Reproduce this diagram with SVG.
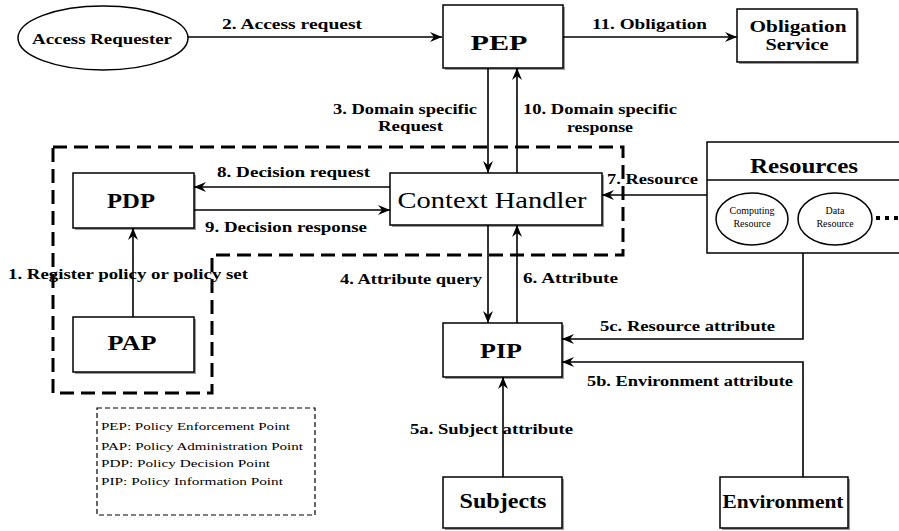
<svg xmlns="http://www.w3.org/2000/svg" width="899" height="531" viewBox="0 0 899 531">
<defs>
<marker id="ah" markerUnits="userSpaceOnUse" markerWidth="12" markerHeight="10" refX="12" refY="5" orient="auto">
<path d="M0,0 L12,5 L0,10 L4,5 Z" fill="#000"/>
</marker>
<style>
.box{fill:#fff;stroke:#000;stroke-width:1.5}
.sh{fill:#9a9a9a}
.lbl{font-family:"Liberation Serif",serif;font-weight:bold;font-size:14px;fill:#000}
.big{font-family:"Liberation Serif",serif;font-weight:bold;font-size:22px;fill:#000;text-anchor:middle}
.con{fill:none;stroke:#000;stroke-width:1.6}
.leg{font-family:"Liberation Serif",serif;font-size:11px;fill:#000}
.small{font-family:"Liberation Serif",serif;font-size:10px;fill:#000;text-anchor:middle}
</style>
</defs>
<rect width="899" height="531" fill="#fff"/>

<g id="region">
<path d="M53,147 H623 V255 H212 V393 H53 Z" fill="none" stroke="#000" stroke-width="3" stroke-dasharray="14 7"/>
</g>

<g id="access-requester">
<ellipse cx="103" cy="38" rx="85" ry="32" fill="#fff" stroke="#000" stroke-width="1.5"/>
<text x="102" y="44" class="lbl" text-anchor="middle" textLength="140" lengthAdjust="spacingAndGlyphs">Access Requester</text>
</g>

<g id="pep">
<rect x="445" y="7" width="120" height="63" class="sh"/>
<rect x="443" y="5" width="120" height="63" class="box"/>
<text x="499" y="50" class="big" textLength="57" lengthAdjust="spacingAndGlyphs">PEP</text>
</g>

<g id="obligation-service">
<rect x="739" y="11" width="120" height="53" class="sh"/>
<rect x="737" y="9" width="120" height="53" class="box"/>
<text x="798" y="32" class="lbl" text-anchor="middle" font-size="17" textLength="97" lengthAdjust="spacingAndGlyphs" style="font-size:17px">Obligation</text>
<text x="797" y="50" class="lbl" text-anchor="middle" textLength="63" lengthAdjust="spacingAndGlyphs" style="font-size:16px">Service</text>
</g>

<g id="pdp">
<rect x="75" y="175" width="121" height="55" class="sh"/>
<rect x="73" y="173" width="121" height="55" class="box"/>
<text x="131" y="208" class="big" textLength="48" lengthAdjust="spacingAndGlyphs">PDP</text>
</g>

<g id="context-handler">
<rect x="392" y="175" width="212" height="52" class="sh"/>
<rect x="390" y="173" width="212" height="52" class="box"/>
<text x="492" y="208" font-family="Liberation Serif, serif" font-size="23" text-anchor="middle" textLength="189" lengthAdjust="spacingAndGlyphs">Context Handler</text>
</g>

<g id="pap">
<rect x="75" y="319" width="121" height="55" class="sh"/>
<rect x="73" y="317" width="121" height="55" class="box"/>
<text x="132" y="350" class="big" textLength="49" lengthAdjust="spacingAndGlyphs">PAP</text>
</g>

<g id="resources">
<rect x="707" y="142" width="200" height="111" class="box"/>
<line x1="707" y1="180" x2="899" y2="180" stroke="#000" stroke-width="1.5"/>
<text x="804" y="173" class="big" textLength="108" lengthAdjust="spacingAndGlyphs">Resources</text>
<ellipse cx="752" cy="219" rx="36" ry="26" fill="#fff" stroke="#000" stroke-width="1.5"/>
<text x="752" y="214" class="small">Computing</text>
<text x="752" y="227" class="small">Resource</text>
<ellipse cx="835" cy="219" rx="37" ry="26" fill="#fff" stroke="#000" stroke-width="1.5"/>
<text x="835" y="214" class="small">Data</text>
<text x="835" y="227" class="small">Resource</text>
<rect x="876" y="216" width="4" height="4" fill="#000"/>
<rect x="885" y="216" width="4" height="4" fill="#000"/>
<rect x="894" y="216" width="4" height="4" fill="#000"/>
</g>

<g id="pip">
<rect x="445" y="325" width="119" height="54" class="sh"/>
<rect x="443" y="323" width="119" height="54" class="box"/>
<text x="501" y="358" class="big" textLength="42" lengthAdjust="spacingAndGlyphs">PIP</text>
</g>

<g id="subjects">
<rect x="445" y="479" width="119" height="51" class="sh"/>
<rect x="443" y="477" width="119" height="51" class="box"/>
<text x="503" y="508" class="big" style="font-size:20px" textLength="87" lengthAdjust="spacingAndGlyphs">Subjects</text>
</g>

<g id="environment">
<rect x="722" y="479" width="128" height="51" class="sh"/>
<rect x="720" y="477" width="128" height="51" class="box"/>
<text x="783" y="508" class="big" style="font-size:18px" textLength="121" lengthAdjust="spacingAndGlyphs">Environment</text>
</g>

<g id="legend">
<rect x="97" y="408" width="218" height="107" fill="none" stroke="#000" stroke-width="1.2" stroke-dasharray="5 3"/>
<text x="101" y="430" class="leg" textLength="189" lengthAdjust="spacingAndGlyphs">PEP: Policy Enforcement Point</text>
<text x="101" y="450" class="leg" textLength="202" lengthAdjust="spacingAndGlyphs">PAP: Policy Administration Point</text>
<text x="101" y="467" class="leg" textLength="169" lengthAdjust="spacingAndGlyphs">PDP: Policy Decision Point</text>
<text x="101" y="485" class="leg" textLength="182" lengthAdjust="spacingAndGlyphs">PIP: Policy Information Point</text>
</g>

<g id="connectors">
<path class="con" d="M188,37 H442" marker-end="url(#ah)"/>
<path class="con" d="M563,37 H737" stroke-width="2" marker-end="url(#ah)"/>
<path class="con" d="M488,68 V173" stroke-width="1.2" marker-end="url(#ah)"/>
<path class="con" d="M517,173 V68" stroke-width="2" marker-end="url(#ah)"/>
<path class="con" d="M390,187 H194" marker-end="url(#ah)"/>
<path class="con" d="M194,210 H390" marker-end="url(#ah)"/>
<path class="con" d="M133,317 V228" stroke-width="2" marker-end="url(#ah)"/>
<path class="con" d="M488,225 V323" stroke-width="1.2" marker-end="url(#ah)"/>
<path class="con" d="M517,323 V225" stroke-width="1.6" marker-end="url(#ah)"/>
<path class="con" d="M707,195 H602" marker-end="url(#ah)"/>
<path class="con" d="M803,253 V339 H562" marker-end="url(#ah)"/>
<path class="con" d="M803,477 V362 H562" marker-end="url(#ah)"/>
<path class="con" d="M503,477 V377" stroke-width="2" marker-end="url(#ah)"/>
<text x="222" y="29" class="lbl" textLength="140" lengthAdjust="spacingAndGlyphs">2. Access request</text>
<text x="592" y="29" class="lbl" textLength="115" lengthAdjust="spacingAndGlyphs">11. Obligation</text>
<text x="333" y="114" class="lbl" textLength="144" lengthAdjust="spacingAndGlyphs">3. Domain specific</text>
<text x="378" y="131" class="lbl" textLength="65" lengthAdjust="spacingAndGlyphs">Request</text>
<text x="523" y="114" class="lbl" textLength="154" lengthAdjust="spacingAndGlyphs">10. Domain specific</text>
<text x="567" y="132" class="lbl" textLength="66" lengthAdjust="spacingAndGlyphs">response</text>
<text x="217" y="177" class="lbl" textLength="153" lengthAdjust="spacingAndGlyphs">8. Decision request</text>
<text x="205" y="232" class="lbl" textLength="162" lengthAdjust="spacingAndGlyphs">9. Decision response</text>
<text x="8" y="279" class="lbl" textLength="240" lengthAdjust="spacingAndGlyphs">1. Register policy or policy set</text>
<text x="340" y="284" class="lbl" textLength="142" lengthAdjust="spacingAndGlyphs">4. Attribute query</text>
<text x="523" y="283" class="lbl" textLength="95" lengthAdjust="spacingAndGlyphs">6. Attribute</text>
<text x="607" y="184" class="lbl" textLength="91" lengthAdjust="spacingAndGlyphs">7. Resource</text>
<text x="600" y="331" class="lbl" textLength="175" lengthAdjust="spacingAndGlyphs">5c. Resource attribute</text>
<text x="587" y="386" class="lbl" textLength="206" lengthAdjust="spacingAndGlyphs">5b. Environment attribute</text>
<text x="410" y="434" class="lbl" textLength="163" lengthAdjust="spacingAndGlyphs">5a. Subject attribute</text>
</g>
</svg>
